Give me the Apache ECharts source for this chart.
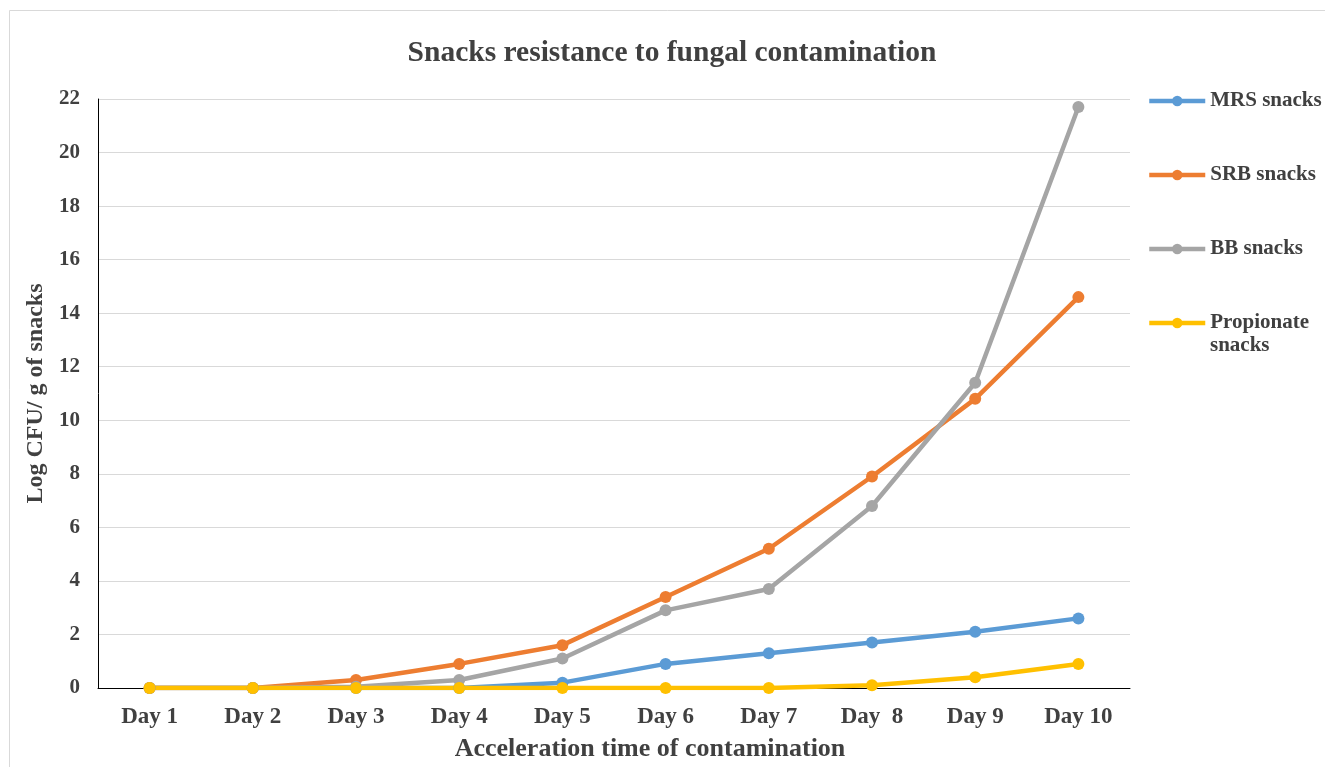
<!DOCTYPE html>
<html><head><meta charset="utf-8">
<script src="https://cdn.jsdelivr.net/npm/echarts@6/dist/echarts.min.js"></script>
<style>html,body{margin:0;padding:0;background:#fff}#c{width:1325px;height:767px}</style>
</head><body><div id="c"></div>
<script>
const categories = ['Day 1','Day 2','Day 3','Day 4','Day 5','Day 6','Day 7','Day  8','Day 9','Day 10'];
const mrs = [0, 0, 0, 0, 0.2, 0.9, 1.3, 1.7, 2.1, 2.6];
const srb = [0, 0, 0.3, 0.9, 1.6, 3.4, 5.2, 7.9, 10.8, 14.6];
const bb = [0, 0, 0.05, 0.3, 1.1, 2.9, 3.7, 6.8, 11.4, 21.7];
const propionate = [0, 0, 0, 0, 0, 0, 0, 0.1, 0.4, 0.9];
const seriesNames = ['MRS snacks','SRB snacks','BB snacks','Propionate snacks'];
const colors = ['#5B9BD5','#ED7D31','#A5A5A5','#FFC000'];
const F = '"Liberation Serif","Times New Roman",serif';
const txt = '#404040';
const chart = echarts.init(document.getElementById('c'));
const mk = (name, data, color) => ({
  name, type:'line', data, color,
  symbol:'circle', symbolSize:12, smooth:false,
  lineStyle:{width:4.5, color}, itemStyle:{color}
});
chart.setOption({
  animation:false,
  backgroundColor:'#fff',
  graphic:[
    {type:'rect', shape:{x:9.5,y:10.5,width:1330,height:800}, style:{fill:'none', stroke:'#d9d9d9', lineWidth:1}, silent:true},
    {type:'text', left:1210, top:335, style:{text:'snacks', font:'bold 21px ' + F, fill:txt}, silent:true}
  ],
  title:{text:'Snacks resistance to fungal contamination', left:667, top:33, textAlign:'center',
    textStyle:{fontFamily:F, fontSize:29.5, fontWeight:'bold', color:txt}},
  grid:{left:98, right:195, top:99, bottom:75},
  legend:{orient:'vertical', left:1142, top:84, itemWidth:56, itemHeight:13, itemGap:50,
    lineStyle:{width:4.5},
    textStyle:{fontFamily:F, fontSize:21, fontWeight:'bold', color:txt, lineHeight:24},
    formatter: n => n === 'Propionate snacks' ? 'Propionate' : n,
    data:seriesNames},
  xAxis:{type:'category', data:categories, boundaryGap:true,
    axisLine:{lineStyle:{color:'#000', width:1}}, axisTick:{show:false},
    axisLabel:{fontFamily:F, fontSize:23, fontWeight:'bold', color:txt, margin:18, interval:0},
    name:'Acceleration time of contamination', nameLocation:'middle', nameGap:48,
    nameTextStyle:{fontFamily:F, fontSize:26, fontWeight:'bold', color:txt, padding:[0,0,0,72]}},
  yAxis:{type:'value', min:0, max:22, interval:2,
    axisLine:{show:true, lineStyle:{color:'#000', width:1}}, axisTick:{show:false},
    splitLine:{lineStyle:{color:'#d9d9d9', width:1}},
    axisLabel:{fontFamily:F, fontSize:21, fontWeight:'bold', color:txt, margin:18},
    name:'Log CFU/ g of snacks', nameLocation:'middle', nameGap:48,
    nameTextStyle:{fontFamily:F, fontSize:24, fontWeight:'bold', color:txt}},
  series:[mk(seriesNames[0], mrs, colors[0]), mk(seriesNames[1], srb, colors[1]),
    mk(seriesNames[2], bb, colors[2]), mk(seriesNames[3], propionate, colors[3])]
});
</script></body></html>
